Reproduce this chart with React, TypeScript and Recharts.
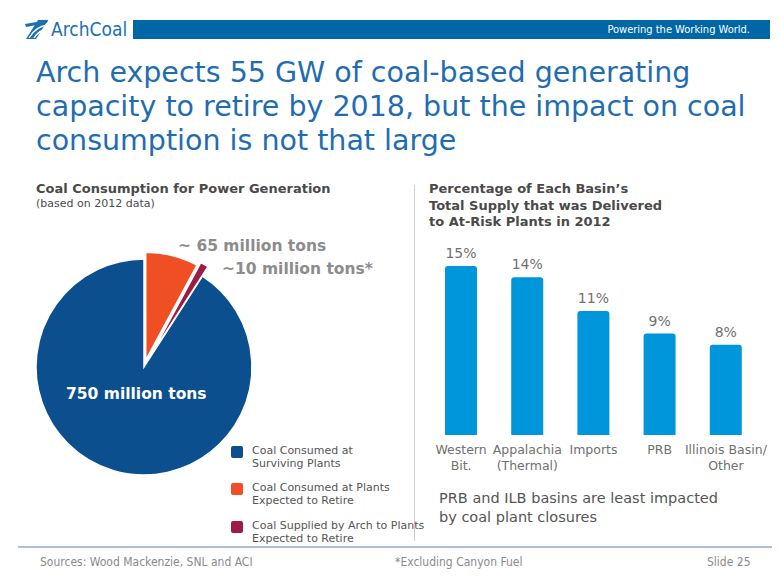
import { PieChart, Pie, Cell, BarChart, Bar, XAxis, YAxis, LabelList } from "recharts";

const PIE_NAMES = [
  "Coal Consumed at Plants Expected to Retire",
  "Coal Supplied by Arch to Plants Expected to Retire",
  "Coal Consumed at Surviving Plants",
];
const PIE_VALUES = [65, 10, 750];
const PIE_COLORS = ["#f04e23", "#9c1b47", "#0b4f8f"];
const PIE_EXPLODE = [7, 11, 0];

const BASINS = ["Western\nBit.", "Appalachia\n(Thermal)", "Imports", "PRB", "Illinois Basin/\nOther"];
const SHARES = [15, 14, 11, 9, 8];

const LEGEND = [
  { color: "#0b4f8f", lines: ["Coal Consumed at", "Surviving Plants"], top: 444 },
  { color: "#f04e23", lines: ["Coal Consumed at Plants", "Expected to Retire"], top: 481 },
  { color: "#9c1b47", lines: ["Coal Supplied by Arch to Plants", "Expected to Retire"], top: 519 },
];

const SANS = '"DejaVu Sans", Verdana, sans-serif';
const NARROW = '"Liberation Sans Narrow", "DejaVu Sans Condensed", Arial, sans-serif';

const pieData = PIE_NAMES.map((name, i) => ({ name, value: PIE_VALUES[i] }));
const barData = BASINS.map((basin, i) => ({ basin, share: SHARES[i] }));

// offset of each exploded slice along its middle angle (clockwise from 12 o'clock)
const total = PIE_VALUES.reduce((a, b) => a + b, 0);
let acc = 0;
const offsets = PIE_VALUES.map((v, i) => {
  const mid = ((acc + v / 2) / total) * 2 * Math.PI;
  acc += v;
  return { dx: Math.sin(mid) * PIE_EXPLODE[i], dy: -Math.cos(mid) * PIE_EXPLODE[i] };
});

function BasinTick({ x, y, payload }: any) {
  const lines = String(payload.value).split("\n");
  return (
    <text x={x} y={y} textAnchor="middle" fill="#707070" fontSize={12.5} fontFamily={SANS}>
      {lines.map((l, i) => (
        <tspan key={i} x={x} dy={i === 0 ? 11 : 16}>
          {l}
        </tspan>
      ))}
    </text>
  );
}

function Logo() {
  return (
    <div style={{ position: "absolute", left: 24, top: 17, width: 108, height: 24 }}>
      <svg width={26} height={24} style={{ position: "absolute", left: 0, top: 0 }}>
        <path d="M2 22 L14 3 L24 3 L12 22 Z" fill="#1a6fb5" />
        <path d="M1 7 L24 3 L23 6 L2 10 Z" fill="#1a6fb5" />
        <path d="M5 21 Q12 9 24 8" stroke="#fff" strokeWidth={1.4} fill="none" />
        <path d="M10 21 Q15 13 24 12" stroke="#fff" strokeWidth={1.4} fill="none" />
      </svg>
      <div style={{ position: "absolute", left: 27, top: 0, fontFamily: NARROW, fontSize: 19, lineHeight: "24px", color: "#1a6fb5", whiteSpace: "nowrap" }}>
        ArchCoal
      </div>
    </div>
  );
}

export default function App() {
  return (
    <div style={{ position: "relative", width: 780, height: 585, background: "#fff", fontFamily: SANS, overflow: "hidden" }}>
      <style>{"body{margin:0}"}</style>
      <Logo />
      <div style={{ position: "absolute", left: 133, top: 20, width: 637, height: 19, background: "#0067a7" }}>
        <div style={{ position: "absolute", right: 20, top: 3, color: "#fff", fontFamily: NARROW, fontSize: 11, whiteSpace: "nowrap" }}>
          Powering the Working World.
        </div>
      </div>

      <div style={{ position: "absolute", left: 36, top: 56, color: "#1f6db0", fontSize: 28.5, lineHeight: "34px", whiteSpace: "nowrap" }}>
        Arch expects 55 GW of coal-based generating
        <br />
        capacity to retire by 2018, but the impact on coal
        <br />
        consumption is not that large
      </div>

      <div style={{ position: "absolute", left: 36, top: 181, color: "#4a4a4a", whiteSpace: "nowrap" }}>
        <div style={{ fontSize: 13, fontWeight: "bold", lineHeight: "16px" }}>Coal Consumption for Power Generation</div>
        <div style={{ fontSize: 11, lineHeight: "14px" }}>(based on 2012 data)</div>
      </div>

      <div style={{ position: "absolute", left: 429, top: 181, color: "#4a4a4a", fontSize: 13, fontWeight: "bold", lineHeight: "16.5px", whiteSpace: "nowrap" }}>
        Percentage of Each Basin’s
        <br />
        Total Supply that was Delivered
        <br />
        to At-Risk Plants in 2012
      </div>

      <div style={{ position: "absolute", left: 414, top: 185, width: 1, height: 356, background: "#cfcfcf" }} />

      <div style={{ position: "absolute", left: 15, top: 237 }}>
        <PieChart width={260} height={260}>
          {[2, 0, 1].map((k) => (
            <Pie
              key={k}
              data={pieData}
              dataKey="value"
              nameKey="name"
              cx={124 + offsets[k].dx}
              cy={125 + offsets[k].dy}
              outerRadius={108}
              startAngle={90}
              endAngle={-270}
              isAnimationActive={false}
            >
              {pieData.map((_, i) => (
                <Cell
                  key={i}
                  fill={i === k ? PIE_COLORS[i] : "none"}
                  stroke={i === k ? "#fff" : "none"}
                  strokeWidth={1.5}
                />
              ))}
            </Pie>
          ))}
        </PieChart>
      </div>

      <div style={{ position: "absolute", left: 66, top: 385, color: "#fff", fontSize: 15.5, fontWeight: "bold", whiteSpace: "nowrap" }}>
        750 million tons
      </div>
      <div style={{ position: "absolute", left: 178, top: 237, color: "#8c8c8c", fontSize: 15.5, fontWeight: "bold", whiteSpace: "nowrap" }}>
        ~ 65 million tons
      </div>
      <div style={{ position: "absolute", left: 222, top: 260, color: "#8c8c8c", fontSize: 15.5, fontWeight: "bold", whiteSpace: "nowrap" }}>
        ~10 million tons*
      </div>

      {LEGEND.map((item) => (
        <div key={item.color} style={{ position: "absolute", left: 231, top: item.top, whiteSpace: "nowrap" }}>
          <div style={{ position: "absolute", left: 0, top: 2, width: 12, height: 12, borderRadius: 2, background: item.color }} />
          <div style={{ position: "absolute", left: 21, top: 0, fontSize: 11, lineHeight: "13px", color: "#555" }}>
            {item.lines[0]}
            <br />
            {item.lines[1]}
          </div>
        </div>
      ))}

      <div style={{ position: "absolute", left: 415, top: 230 }}>
        <BarChart width={360} height={250} data={barData} margin={{ top: 36, right: 16, left: 13, bottom: 0 }} barSize={32}>
          <XAxis dataKey="basin" axisLine={false} tickLine={false} tick={<BasinTick />} interval={0} height={45} />
          <YAxis hide domain={[0, 15]} />
          <Bar dataKey="share" fill="#0096dc" radius={[3, 3, 0, 0]} isAnimationActive={false}>
            <LabelList
              dataKey="share"
              position="top"
              offset={8}
              formatter={(v: any) => `${v}%`}
              style={{ fill: "#707070", fontSize: 14, fontFamily: SANS }}
            />
          </Bar>
        </BarChart>
      </div>

      <div style={{ position: "absolute", left: 439, top: 489, color: "#555", fontSize: 14.5, lineHeight: "19px", whiteSpace: "nowrap" }}>
        PRB and ILB basins are least impacted
        <br />
        by coal plant closures
      </div>

      <div style={{ position: "absolute", left: 18, top: 546, width: 754, height: 2, background: "#a9c0d8" }} />
      <div style={{ position: "absolute", left: 40, top: 555, color: "#8a8a8a", fontFamily: NARROW, fontSize: 12, whiteSpace: "nowrap" }}>
        Sources: Wood Mackenzie, SNL and ACI
      </div>
      <div style={{ position: "absolute", left: 395, top: 555, color: "#8a8a8a", fontFamily: NARROW, fontSize: 12, whiteSpace: "nowrap" }}>
        *Excluding Canyon Fuel
      </div>
      <div style={{ position: "absolute", left: 707, top: 555, color: "#8a8a8a", fontFamily: NARROW, fontSize: 12, whiteSpace: "nowrap" }}>
        Slide 25
      </div>
    </div>
  );
}
